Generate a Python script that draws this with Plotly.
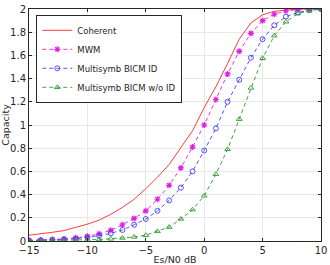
import plotly.graph_objects as go

snr_db = list(range(-15, 11))

coherent = [0.05, 0.06, 0.075, 0.09, 0.115, 0.145, 0.18, 0.23, 0.29, 0.36, 0.45,
            0.55, 0.66, 0.80, 0.95, 1.15, 1.33, 1.53, 1.74, 1.88, 1.95, 1.98,
            1.99, 2.0, 2.0, 2.0]
mwm = [0.005, 0.008, 0.012, 0.018, 0.027, 0.04, 0.062, 0.092, 0.14, 0.195, 0.26,
       0.36, 0.48, 0.63, 0.81, 1.0, 1.22, 1.44, 1.635, 1.79, 1.9, 1.955, 1.985,
       1.995, 2.0, 2.0]
bicm_id = [0.004, 0.006, 0.009, 0.013, 0.02, 0.03, 0.045, 0.066, 0.095, 0.14, 0.19,
           0.26, 0.35, 0.46, 0.6, 0.78, 0.97, 1.2, 1.39, 1.58, 1.74, 1.86, 1.935,
           1.97, 1.99, 2.0]
bicm_noid = [0.001, 0.002, 0.003, 0.004, 0.006, 0.009, 0.013, 0.019, 0.026, 0.035,
             0.05, 0.083, 0.12, 0.19, 0.27, 0.39, 0.575, 0.79, 1.05, 1.32, 1.575,
             1.77, 1.89, 1.96, 1.985, 2.0]

names = ["Coherent", "MWM", "Multisymb BICM ID", "Multisymb BICM w/o ID"]
xticks = [-15, -10, -5, 0, 5, 10]
yticks = [0, 0.2, 0.4, 0.6, 0.8, 1, 1.2, 1.4, 1.6, 1.8, 2]
yticklabels = ["0", "0.2", "0.4", "0.6", "0.8", "1", "1.2", "1.4", "1.6", "1.8", "2"]

fig = go.Figure()
fig.add_trace(go.Scatter(x=snr_db, y=coherent, name=names[0], mode="lines",
                         line=dict(color="#ff3b3b", width=1)))
fig.add_trace(go.Scatter(x=snr_db, y=mwm, name=names[1], mode="lines+markers",
                         line=dict(color="#e020e0", width=0.9, dash="4px,3px"),
                         marker=dict(symbol="asterisk-open", size=5,
                                     line=dict(color="#d000d0", width=1.2))))
fig.add_trace(go.Scatter(x=snr_db, y=bicm_id, name=names[2], mode="lines+markers",
                         line=dict(color="#4040ff", width=0.9, dash="4px,3px"),
                         marker=dict(symbol="circle-open", size=5,
                                     line=dict(color="#4040ff", width=0.9))))
fig.add_trace(go.Scatter(x=snr_db, y=bicm_noid, name=names[3], mode="lines+markers",
                         line=dict(color="#2e9a2e", width=0.9, dash="4px,3px"),
                         marker=dict(symbol="triangle-up-open", size=5,
                                     line=dict(color="#2e9a2e", width=0.9))))

axis_common = dict(showline=True, linecolor="#262626", linewidth=1, mirror="ticks",
                   ticks="inside", ticklen=3, tickcolor="#262626",
                   showgrid=True, gridcolor="#e8e8e8", gridwidth=1, zeroline=False,
                   tickfont=dict(family="DejaVu Sans", size=10, color="#262626"))

fig.update_layout(
    width=330, height=265,
    margin=dict(l=29, r=9, t=9, b=24),
    paper_bgcolor="white", plot_bgcolor="white",
    font=dict(family="DejaVu Sans", size=10, color="#262626"),
    xaxis=dict(range=[-15, 10], tickvals=xticks,
               title=dict(text="Es/N0 dB", standoff=2, font=dict(size=9.5)),
               automargin=False, **axis_common),
    yaxis=dict(range=[0, 2], tickvals=yticks, ticktext=yticklabels,
               title=dict(text="Capacity", standoff=4, font=dict(size=9.5)),
               automargin=False, **axis_common),
    legend=dict(x=0.025, y=0.975, xanchor="left", yanchor="top",
                bgcolor="white", bordercolor="#262626", borderwidth=1,
                font=dict(size=8.5, color="#262626"), tracegroupgap=0,
                itemwidth=30),
    showlegend=True,
)

fig.write_html("out.html")
